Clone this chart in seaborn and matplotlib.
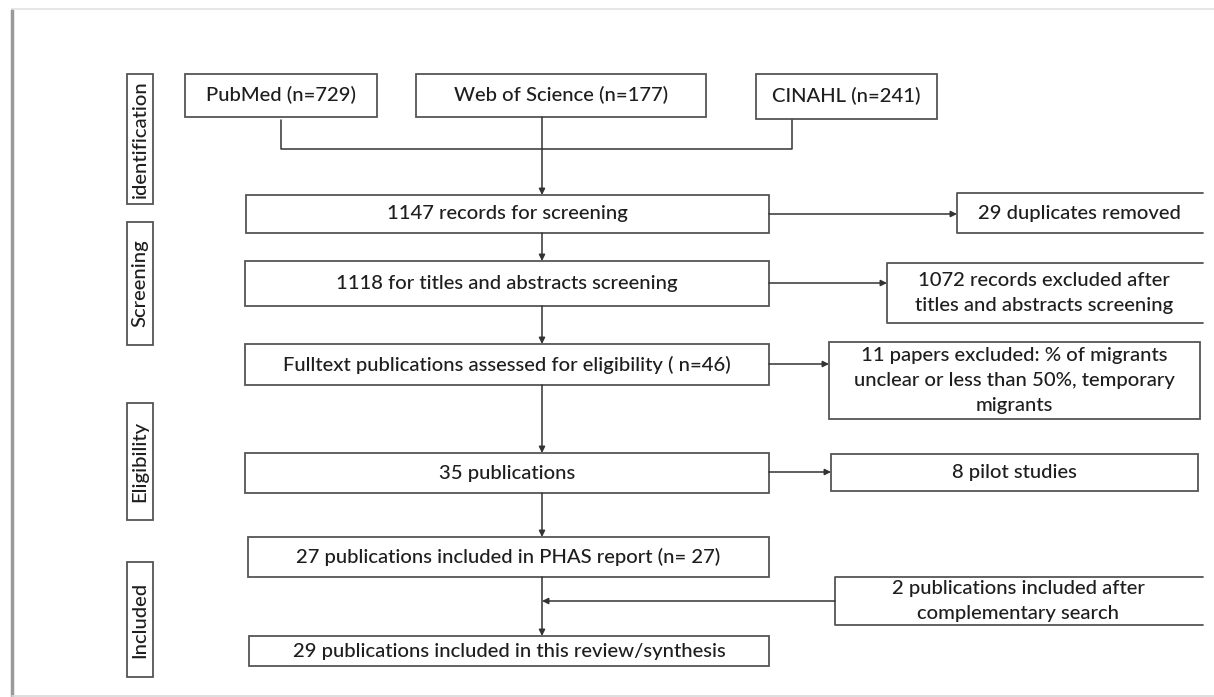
import matplotlib
matplotlib.use("Agg")
import matplotlib.pyplot as plt
import seaborn as sns
from matplotlib.patches import Rectangle

# texts of the flow diagram
phases = ["identification", "Screening", "Eligibility", "Included"]
sources = ["PubMed", "Web of Science", "CINAHL"]
source_n = [729, 177, 241]
main_steps = [
    "1147 records for screening",
    "1118 for titles and abstracts screening",
    "Fulltext publications assessed for eligibility ( n=46)",
    "35 publications",
    "27 publications included in PHAS report (n= 27)",
    "29 publications included in this review/synthesis",
]
side_steps = [
    "29 duplicates removed",
    "1072 records excluded after\ntitles and abstracts screening",
    "11 papers excluded: % of migrants\nunclear or less than 50%, temporary\nmigrants",
    "8 pilot studies",
    "2 publications included after\ncomplementary search",
]

# layout in pixel units (x0, y0, x1, y1)
phase_boxes = [(127, 74, 153, 204), (127, 222, 153, 345), (127, 403, 153, 520), (127, 562, 153, 677)]
source_boxes = [(185, 74, 377, 117), (416, 74, 706, 117), (756, 74, 937, 119)]
main_boxes = [(246, 195, 769, 233), (245, 261, 769, 306), (245, 344, 769, 385),
              (245, 453, 769, 493), (248, 537, 769, 577), (249, 636, 769, 666)]
side_boxes = [(957, 193, 1201, 233), (887, 263, 1201, 323), (829, 342, 1200, 419),
              (831, 454, 1198, 491), (835, 577, 1201, 625)]
side_open = [True, True, False, False, True]
side_arrow_y = [214, 283, 364, 472]

sns.set_theme(style="white")
plt.rcParams["font.family"] = ["Lato", "DejaVu Sans"]

W, H = 1214, 697
fig = plt.figure(figsize=(W / 100, H / 100), dpi=100)
ax = fig.add_axes([0, 0, 1, 1])
ax.set_xlim(0, W)
ax.set_ylim(H, 0)
ax.axis("off")

EDGE = "#555555"
LINE = "#333333"
TXT = "#1e1e1e"
FS = 14.6


def box(b, text, open_right=False, rot=0, ls=1.58):
    x0, y0, x1, y1 = b
    if open_right:
        ax.plot([x1 + 2, x0, x0, x1 + 2], [y0, y0, y1, y1], color=EDGE, lw=1.3)
    else:
        ax.add_patch(Rectangle((x0, y0), x1 - x0, y1 - y0, fill=False, ec=EDGE, lw=1.3))
    ax.text((x0 + x1) / 2, (y0 + y1) / 2, text, ha="center", va="center",
            fontsize=FS, color=TXT, rotation=rot, linespacing=ls, fontweight="medium")


def arrow(p, q):
    ax.annotate("", xy=q, xytext=p,
                arrowprops=dict(arrowstyle="-|>", color=LINE, lw=1.1,
                                mutation_scale=9, shrinkA=0, shrinkB=0))


# outer frame
ax.plot([12, 12], [10, 696], color="#9a9a9a", lw=2.5)
ax.plot([12, W], [9, 9], color="#e2e2e2", lw=1.2)
ax.plot([12, W], [696, 696], color="#d8d8d8", lw=1.2)

for b, t in zip(phase_boxes, phases):
    box(b, t, rot=90)
for b, s, n in zip(source_boxes, sources, source_n):
    box(b, f"{s} (n={n})")
for b, t in zip(main_boxes, main_steps):
    box(b, t)
for b, t, o in zip(side_boxes, side_steps, side_open):
    box(b, t, open_right=o)

# sources merge
ax.plot([281, 281, 792, 792], [120, 149, 149, 120], color=LINE, lw=1.1)
cx = 542
arrow((cx, 117), (cx, 195))
for a, b in zip(main_boxes[:-1], main_boxes[1:]):
    arrow((cx, a[3]), (cx, b[1]))
for y, b in zip(side_arrow_y, side_boxes[:4]):
    arrow((769, y), (b[0], y))
arrow((side_boxes[4][0], 601), (cx, 601))

fig.savefig("out.png", dpi=100)
